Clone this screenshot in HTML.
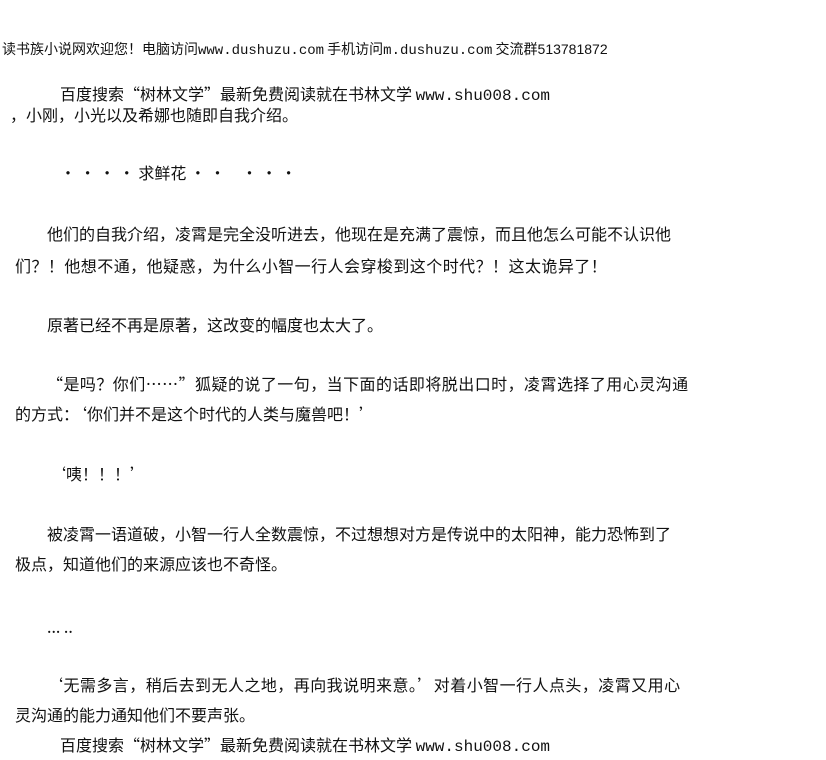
<!DOCTYPE html>
<html><head><meta charset="utf-8"><style>
body{margin:0;width:826px;height:760px;background:#fff;position:relative;overflow:hidden;font-family:"Noto Sans CJK SC","WenQuanYi Zen Hei",sans-serif;color:#111}
div{position:absolute;white-space:nowrap;font-size:16px;line-height:18px}
.h{font-size:14px}
.m{font-family:"Liberation Mono",monospace}
.ls{letter-spacing:0.45px}
</style></head><body>
<div class="h" style="left:2px;top:40px">读书族小说网欢迎您！电脑访问<span class="m">www.dushuzu.com</span> 手机访问<span class="m">m.dushuzu.com</span> 交流群<span style="font-family:'Liberation Sans'">513781872</span></div>
<div style="left:60px;top:84px">百度搜索“树林文学”最新免费阅读就在书林文学 <span class="m">www.shu008.com</span></div>
<div style="left:10px;top:105px">，小刚，小光以及希娜也随即自我介绍。</div>
<div style="left:60px;top:163px">· · · · 求鲜花 · ·　· · ·</div>
<div style="left:47px;top:224px">他们的自我介绍，凌霄是完全没听进去，他现在是充满了震惊，而且他怎么可能不认识他</div>
<div class="ls" style="left:15px;top:256px">们？！他想不通，他疑惑，为什么小智一行人会穿梭到这个时代？！这太诡异了！</div>
<div style="left:47px;top:315px">原著已经不再是原著，这改变的幅度也太大了。</div>
<div class="ls" style="left:47px;top:374px">“是吗？你们……”狐疑的说了一句，当下面的话即将脱出口时，凌霄选择了用心灵沟通</div>
<div style="left:15px;top:404px">的方式：‘你们并不是这个时代的人类与魔兽吧！’</div>
<div style="left:50px;top:464px">‘咦！！！’</div>
<div style="left:47px;top:524px">被凌霄一语道破，小智一行人全数震惊，不过想想对方是传说中的太阳神，能力恐怖到了</div>
<div style="left:15px;top:554px">极点，知道他们的来源应该也不奇怪。</div>
<div style="left:47px;top:617px">... ..</div>
<div class="ls" style="left:47px;top:675px">‘无需多言，稍后去到无人之地，再向我说明来意。’对着小智一行人点头，凌霄又用心</div>
<div style="left:15px;top:705px">灵沟通的能力通知他们不要声张。</div>
<div style="left:60px;top:735px">百度搜索“树林文学”最新免费阅读就在书林文学 <span class="m">www.shu008.com</span></div>
</body></html>
